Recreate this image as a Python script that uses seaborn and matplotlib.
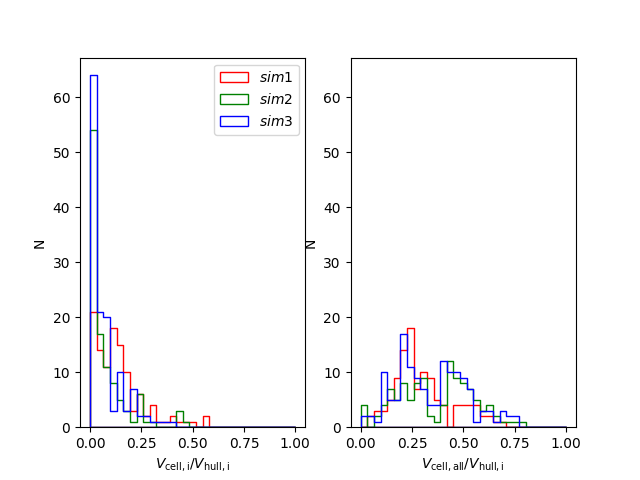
import numpy as np
import pandas as pd
import matplotlib
matplotlib.use("Agg")
import matplotlib.pyplot as plt
import seaborn as sns

# 31 equal-width bins between 0 and 1
n_bins = 31
bin_range = (0, 1)

sim_labels = ["$sim1$", "$sim2$", "$sim3$"]
sim_colors = ["red", "green", "blue"]

# counts per bin for V_cell,i / V_hull,i
cell_i_sim1 = [21, 14, 11, 18, 15, 10, 3, 6, 2, 4, 1, 1, 2, 1, 1, 1, 0, 2,
               0, 0, 0, 0, 0, 0, 0, 0, 0, 0, 0, 0, 0]
cell_i_sim2 = [54, 17, 11, 8, 5, 3, 1, 6, 1, 1, 0, 0, 0, 3, 1, 0, 0, 0,
               0, 0, 0, 0, 0, 0, 0, 0, 0, 0, 0, 0, 0]
cell_i_sim3 = [64, 21, 20, 3, 10, 3, 7, 2, 2, 1, 1, 1, 1, 0, 0, 0, 0, 0,
               0, 0, 0, 0, 0, 0, 0, 0, 0, 0, 0, 0, 0]

# counts per bin for V_cell,all / V_hull,i
cell_all_sim1 = [0, 2, 3, 3, 5, 9, 14, 18, 7, 10, 9, 5, 4, 0, 4, 4, 4, 4,
                 2, 2, 1, 1, 0, 0, 0, 0, 0, 0, 0, 0, 0]
cell_all_sim2 = [4, 0, 2, 4, 7, 5, 8, 5, 8, 9, 2, 1, 4, 12, 9, 8, 7, 5,
                 3, 4, 2, 1, 1, 1, 1, 0, 0, 0, 0, 0, 0]
cell_all_sim3 = [2, 2, 1, 10, 5, 5, 17, 11, 9, 7, 4, 4, 12, 10, 10, 9, 7, 1,
                 3, 3, 1, 3, 2, 2, 0, 0, 0, 0, 0, 0, 0]


def draw_panel(ax, all_counts, xlabel):
    """Step histograms for the three simulations on one axes."""
    edges = np.linspace(bin_range[0], bin_range[1], n_bins + 1)
    centers = (edges[:-1] + edges[1:]) / 2
    for counts, label, color in zip(all_counts, sim_labels, sim_colors):
        df = pd.DataFrame({"value": centers, "count": counts})
        sns.histplot(data=df, x="value", weights="count",
                     bins=n_bins, binrange=bin_range,
                     element="step", fill=True, facecolor="none",
                     color=color, linewidth=1, label=label, ax=ax)
    ax.set_xlabel(xlabel)
    ax.set_ylabel("N")


def main():
    fig, (ax1, ax2) = plt.subplots(1, 2, figsize=(6.4, 4.8))

    draw_panel(ax1, [cell_i_sim1, cell_i_sim2, cell_i_sim3],
               r"$V_{\mathrm{cell,i}}/V_{\mathrm{hull,i}}$")
    draw_panel(ax2, [cell_all_sim1, cell_all_sim2, cell_all_sim3],
               r"$V_{\mathrm{cell,all}}/V_{\mathrm{hull,i}}$")

    ax2.set_ylim(ax1.get_ylim())
    ax1.legend(loc="upper right")

    fig.savefig("out.png", dpi=100)


if __name__ == "__main__":
    main()
